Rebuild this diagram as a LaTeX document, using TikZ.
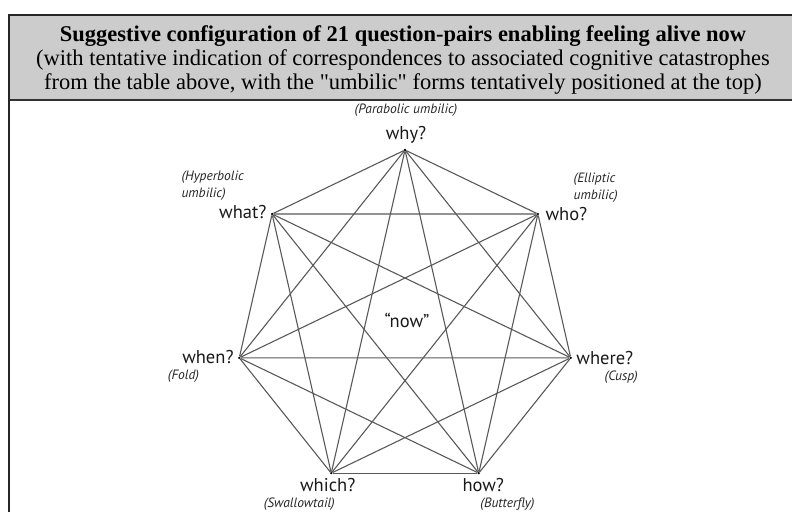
\documentclass[tikz,border=0pt]{standalone}
\usepackage{fontspec}
\setmainfont{Liberation Serif}
\newfontfamily\headfont{Liberation Serif}
\newfontfamily\qfont{PT Sans}
\usetikzlibrary{positioning}

\begin{document}
\begin{tikzpicture}[
    x=1pt, y=1pt,
    vertex/.style={circle, fill=black, inner sep=0pt, minimum size=2.6pt},
    question/.style={font=\qfont\fontsize{18.5}{20}\selectfont, inner sep=0pt, text=black!90},
    catastrophe/.style={font=\qfont\itshape\fontsize{13.5}{17}\selectfont,
                        text=black!85, inner sep=0pt, align=left},
    pair/.style={draw=black!65, line width=1.1pt},
]
\useasboundingbox (0,0) rectangle (792,512);

% Header
\fill[black!20] (9,497) rectangle (792,412);
\node[align=center, font=\headfont\fontsize{22.5}{24}\selectfont] (title) at (403,452)
    {\textbf{Suggestive configuration of 21 question-pairs enabling feeling alive now}\\
     (with tentative indication of correspondences to associated cognitive catastrophes\\
     from the table above, with the "umbilic" forms tentatively positioned at the top)};
\draw[black!80, line width=1.5pt] (9,412) -- (792,412);
\draw[black!85, line width=2.6pt] (9,0) -- (9,497) -- (792,497);

% Question points on a heptagon
\begin{scope}[shift={(405,192)}]
\foreach \name [count=\i] in {why,who,where,how,which,when,what}
    \node[vertex] (\name) at ({90-(\i-1)*360/7}:170) {};
\end{scope}

% 21 question-pairs
\foreach \a/\others in {why/{who,where,how,which,when,what},
                        who/{where,how,which,when,what},
                        where/{how,which,when,what},
                        how/{which,when,what},
                        which/{when,what},
                        when/{what}}
    \foreach \b in \others
        \draw[pair] (\a) -- (\b);

% Questions
\node[question, above=5pt of why, xshift=1pt] (whyq) {why?};
\node[question, left=4pt of what, yshift=2pt] (whatq) {what?};
\node[question, right=6pt of who] (whoq) {who?};
\node[question, left=4pt of when, yshift=1pt] (whenq) {when?};
\node[question, right=4pt of where] (whereq) {where?};
\node[question, below=3pt of which, xshift=-3.5pt] (whichq) {which?};
\node[question, below=3pt of how, xshift=4.5pt] (howq) {how?};
\node[question] (now) at (407,192) {“now”};

% Catastrophes
\node[catastrophe, above=9pt of whyq] (parabolic) {(Parabolic umbilic)};
\node[catastrophe, above left=4pt and -25pt of whatq] (hyperbolic) {(Hyperbolic\\umbilic)};
\node[catastrophe, above right=4pt and -14pt of whoq] (elliptic) {(Elliptic\\ umbilic)};
\node[catastrophe, below right=6pt and -66pt of whenq] (fold) {(Fold)};
\node[catastrophe, below right=6pt and -29pt of whereq] (cusp) {(Cusp)};
\node[catastrophe, below left=6pt and -35pt of whichq] (swallowtail) {(Swallowtail)};
\node[catastrophe, below right=6pt and -24pt of howq] (butterfly) {(Butterfly)};

\end{tikzpicture}
\end{document}
